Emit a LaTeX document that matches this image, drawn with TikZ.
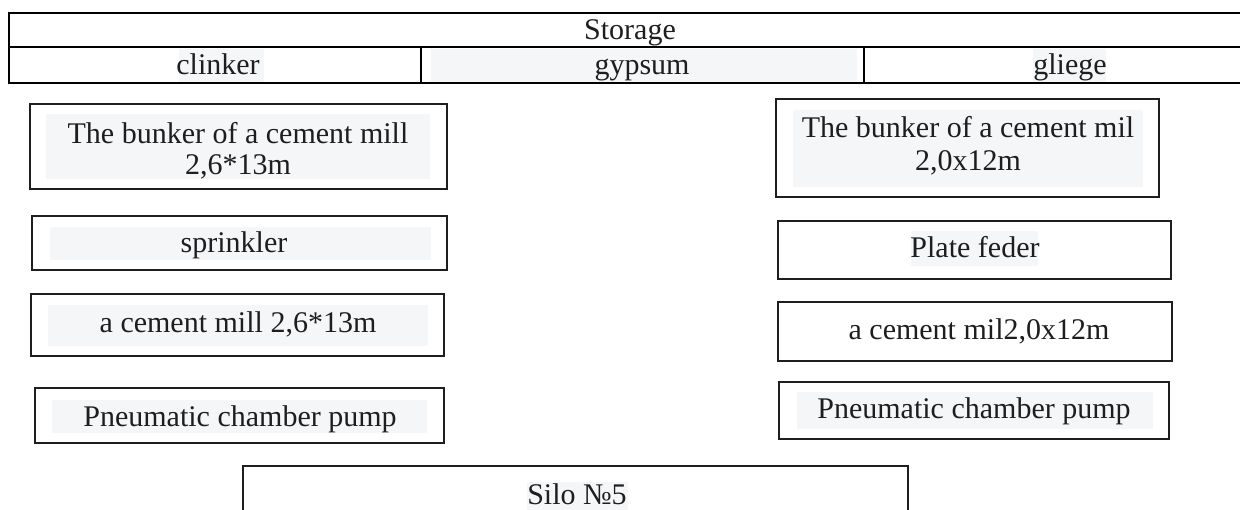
\documentclass[tikz,border=0pt]{standalone}
\usepackage{fontspec}
\setmainfont{Liberation Serif}
\usetikzlibrary{fit}
\definecolor{ink}{HTML}{1E1E1E}
\definecolor{hl}{HTML}{F5F6F8}
\tikzset{
  frame/.style={draw=ink, line width=2pt, inner sep=0pt, outer sep=0pt},
  tframe/.style={draw=black, line width=1.8pt, inner sep=0pt, outer sep=0pt},
  hlbox/.style={fill=hl, draw=none, inner sep=0pt, outer sep=0pt},
  lbl/.style={text=ink, font=\fontsize{30}{30}\selectfont, inner sep=0pt, anchor=base},
}
\begin{document}
\begin{tikzpicture}[x=1pt, y=-1pt]
\useasboundingbox (0,0) rectangle (1240,510);
\clip (0,0) rectangle (1240,510);
% table
\node[tframe, fit={(9,13) (1300,47)}] (storage) {};
\node[hlbox, fit={(179,49) (264,82)}] (hlclinker) {};
\node[hlbox, fit={(431,49) (857,82)}] (hlgypsum) {};
\node[hlbox, fit={(1033,49) (1106,82)}] (hlgliege) {};
\node[tframe, fit={(9,47) (421,83)}] (clinker) {};
\node[tframe, fit={(421,47) (864,83)}] (gypsum) {};
\node[tframe, fit={(864,47) (1300,83)}] (gliege) {};
\node[lbl] (tstorage) at (630,40) {Storage};
\node[lbl] (tclinker) at (218,75) {clinker};
\node[lbl] (tgypsum) at (642,75) {gypsum};
\node[lbl] (tgliege) at (1070,75) {gliege};
% left column
\node[hlbox, fit={(46,114) (430,179)}] (hlbunkerL) {};
\node[frame, fit={(30,104) (447,189)}] (bunkerL) {};
\node[lbl] (tbunkerLa) at (238,144) {The bunker of a cement mill};
\node[lbl] (tbunkerLb) at (238,175) {2,6*13m};
\node[hlbox, fit={(50,227) (431,260)}] (hlsprinkler) {};
\node[frame, fit={(32,216) (447,270)}] (sprinkler) {};
\node[lbl] (tsprinkler) at (234,253) {sprinkler};
\node[hlbox, fit={(48,305) (428,346)}] (hlmillL) {};
\node[frame, fit={(31,294) (444,356)}] (millL) {};
\node[lbl] (tmillL) at (238,333) {a cement mill 2,6*13m};
\node[hlbox, fit={(52,400) (427,433)}] (hlpumpL) {};
\node[frame, fit={(35,388) (444,443)}] (pumpL) {};
\node[lbl] (tpumpL) at (240,427) {Pneumatic chamber pump};
% right column
\node[hlbox, fit={(793,110) (1143,187)}] (hlbunkerR) {};
\node[frame, fit={(776,99) (1159,197)}] (bunkerR) {};
\node[lbl] (tbunkerRa) at (968,138) {The bunker of a cement mil};
\node[lbl] (tbunkerRb) at (968,171) {2,0x12m};
\node[hlbox, fit={(911,231) (1038,266)}] (hlfeder) {};
\node[frame, fit={(778,221) (1171,279)}] (feder) {};
\node[lbl] (tfeder) at (975,258) {Plate feder};
\node[frame, fit={(778,302) (1172,361)}] (millR) {};
\node[lbl] (tmillR) at (979,340) {a cement mil2,0x12m};
\node[hlbox, fit={(797,392) (1153,429)}] (hlpumpR) {};
\node[frame, fit={(779,382) (1169,439)}] (pumpR) {};
\node[lbl] (tpumpR) at (974,419) {Pneumatic chamber pump};
% silo
\node[hlbox, fit={(527,482) (628,520)}] (hlsilo) {};
\node[frame, fit={(243,466) (908,560)}] (silo) {};
\node[lbl] (tsilo) at (577,504) {Silo №5};
\end{tikzpicture}
\end{document}
